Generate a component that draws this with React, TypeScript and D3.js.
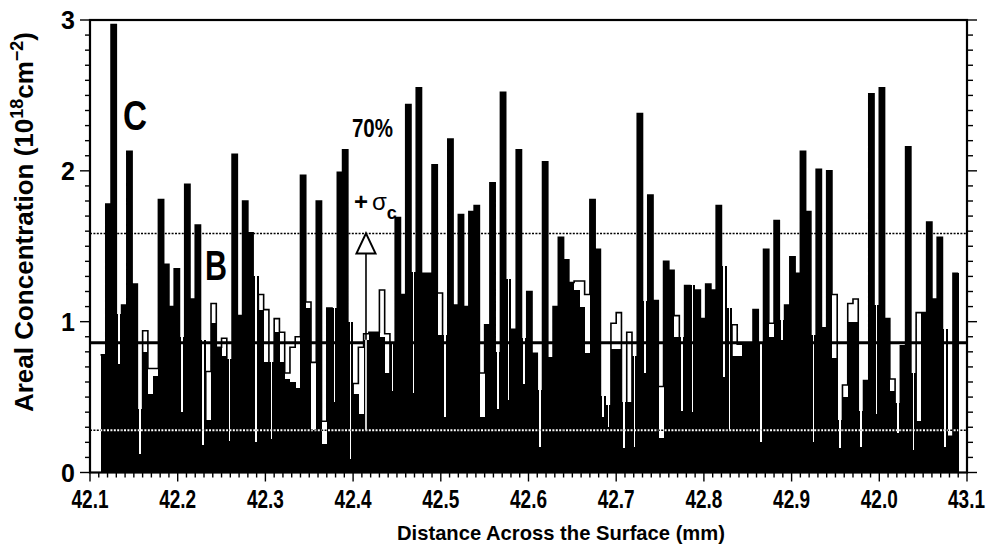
import React from "react";
import * as d3 from "d3";

// histogram bins: 0.006 mm wide, first bin starts at 42.112 mm
const binStart = 42.112;
const binWidth = 0.006;

// curve C (black bars), 10^18 cm^-2
const cVals = [
  0.78, 1.78, 2.97, 1.05, 1.11, 2.13, 1.25, 0.42, 0.80, 0.52,
  0.64, 1.81, 1.38, 1.10, 1.35, 0.90, 1.91, 1.15, 1.64, 0.88,
  0.35, 0.99, 0.83, 0.77, 0.75, 2.11, 1.04, 1.80, 1.59, 1.30,
  1.08, 0.73, 0.73, 0.93, 0.73, 0.62, 0.60, 0.56, 1.97, 1.09,
  0.28, 1.80, 0.19, 1.09, 1.09, 1.99, 2.14, 1.00, 0.52, 0.39,
  0.88, 0.93, 0.93, 0.90, 0.66, 0.85, 1.69, 1.18, 2.44, 1.33,
  2.55, 1.32, 1.32, 2.04, 0.91, 0.91, 2.21, 1.11, 1.71, 1.10,
  1.73, 1.77, 0.37, 0.98, 1.92, 0.80, 2.52, 1.28, 0.95, 2.14,
  0.89, 1.20, 0.79, 0.55, 2.06, 0.76, 1.10, 1.56, 1.41, 1.26,
  1.21, 1.10, 0.79, 1.81, 1.48, 0.51, 0.45, 0.82, 0.82, 0.47,
  0.47, 0.77, 2.38, 1.14, 1.84, 1.14, 0.23, 1.40, 1.34, 0.90,
  0.90, 1.24, 1.24, 1.21, 1.02, 1.25, 1.21, 1.77, 1.37, 1.09,
  0.77, 0.77, 0.85, 0.86, 1.08, 0.86, 1.48, 0.90, 1.67, 1.01,
  1.11, 1.43, 1.32, 2.13, 1.73, 0.91, 2.01, 0.96, 2.00, 0.76,
  0.35, 0.50, 1.00, 1.00, 0.41, 0.61, 2.51, 1.11, 2.55, 1.02,
  0.54, 0.46, 0.84, 2.16, 0.66, 0.34, 1.06, 1.66, 1.15, 1.56,
  0.95, 0.24, 1.32,
];

// curve B (step outline), same bins
const bVals = [
  0.78, 1.78, 2.97, 0.72, 1.11, 2.13, 1.25, 0.12, 0.94, 0.69,
  0.69, 1.81, 1.38, 1.10, 1.35, 0.40, 1.91, 1.15, 1.64, 0.18,
  0.67, 1.12, 0.83, 0.89, 0.21, 2.11, 1.04, 1.80, 1.59, 0.20,
  1.18, 1.08, 0.22, 1.02, 0.93, 0.66, 0.83, 0.90, 1.97, 1.13,
  0.73, 1.80, 0.34, 1.09, 0.47, 1.99, 2.14, 0.09, 0.59, 0.83,
  0.92, 0.93, 0.93, 1.21, 0.92, 0.54, 1.69, 1.18, 2.44, 0.53,
  2.55, 1.32, 1.32, 2.04, 1.19, 0.37, 2.21, 1.11, 1.71, 1.10,
  1.73, 1.77, 0.66, 0.98, 1.92, 0.42, 2.52, 0.48, 0.95, 2.14,
  0.59, 1.20, 0.79, 0.17, 2.06, 0.76, 1.10, 1.56, 1.41, 1.26,
  1.27, 1.27, 1.18, 1.81, 1.48, 0.37, 0.30, 0.99, 1.06, 0.16,
  0.93, 0.17, 2.38, 0.66, 1.84, 1.14, 0.57, 1.40, 1.34, 1.04,
  0.41, 1.24, 0.40, 1.21, 1.02, 1.25, 1.21, 1.77, 0.63, 0.28,
  0.98, 0.85, 0.85, 0.86, 1.08, 0.20, 1.48, 0.99, 1.67, 0.88,
  1.11, 1.43, 1.32, 2.13, 1.73, 0.20, 2.01, 0.96, 2.00, 1.18,
  0.16, 0.58, 1.12, 1.15, 0.17, 0.61, 2.51, 0.39, 2.55, 1.02,
  0.62, 0.26, 0.84, 2.16, 0.15, 1.06, 1.06, 1.66, 1.15, 1.56,
  0.17, 0.24, 1.32,
];

const xTicks = [42.1, 42.2, 42.3, 42.4, 42.5, 42.6, 42.7, 42.8, 42.9, 43.0, 43.1];
const xTickLabels = ["42.1", "42.2", "42.3", "42.4", "42.5", "42.6", "42.7", "42.8", "42.9", "42.0", "43.1"];
const yTicks = [0, 1, 2, 3];

const meanLevel = 0.86;
const sigmaLevels = [1.585, 0.28];

// labels written on the plot (data coords)
const labels = [
  { text: "C", x: 42.1376, y: 2.27, size: 42, len: 24 },
  { text: "B", x: 42.2311, y: 1.277, size: 42, len: 22 },
  { text: "70%", x: 42.3987, y: 2.225, size: 26, len: 41 },
];
const arrowX = 42.4147;

const W = 991;
const H = 546;
const FONT = "'Liberation Sans', Arial, Helvetica, sans-serif";

const x = d3.scaleLinear().domain([42.1, 43.1]).range([90, 967]);
const y = d3.scaleLinear().domain([0, 3]).range([472.5, 20]);

const App = () => {
  const bins = cVals.map((c, i) => {
    const x0 = x(binStart + i * binWidth);
    const x1 = x(binStart + (i + 1) * binWidth);
    return { i, c, b: bVals[i], x0, x1 };
  });

  const stepPts: [number, number][] = bVals.map((b, i) => [binStart + i * binWidth, b]);
  stepPts.push([binStart + bVals.length * binWidth, bVals[bVals.length - 1]]);
  const stepLine = d3
    .line<[number, number]>()
    .x((d) => x(d[0]))
    .y((d) => y(d[1]))
    .curve(d3.curveStepAfter);

  const xMinor = d3.range(0, 101).map((k) => 42.1 + k * 0.01);
  const yMinor = d3.range(0, 31).map((k) => k * 0.1);

  const ax = x(arrowX);
  const arrowTop = y(sigmaLevels[0]);
  const arrowBase = arrowTop + 20;

  return (
    <svg
      width={W}
      height={H}
      style={{ position: "absolute", left: 0, top: 0, background: "#fff" }}
      fontFamily={FONT}
      fontWeight="bold"
    >
      <defs>
        <clipPath id="cbars">
          {bins.map((d) => (
            <rect key={d.i} x={d.x0} width={d.x1 - d.x0} y={y(d.c)} height={y(0) - y(d.c)} />
          ))}
        </clipPath>
      </defs>
      <rect width={W} height={H} fill="#fff" />

      {/* curve B outline */}
      <path d={stepLine(stepPts) || ""} fill="none" stroke="#000" strokeWidth={1.6} />

      {/* curve C bars */}
      <g shapeRendering="crispEdges">
        {bins.map((d) => (
          <rect key={d.i} x={d.x0} width={d.x1 - d.x0 + 0.3} y={y(d.c)} height={y(0) - y(d.c)} fill="#000" />
        ))}
        {bins
          .filter((d) => d.b < d.c - 0.03)
          .map((d) => (
            <rect
              key={"n" + d.i}
              x={(d.x0 + d.x1) / 2 - 0.8}
              width={1.6}
              y={y(d.c)}
              height={y(d.b) - y(d.c)}
              fill="#fff"
            />
          ))}
      </g>

      {/* mean and sigma levels */}
      <line x1={x(42.1)} x2={x(43.1)} y1={y(meanLevel)} y2={y(meanLevel)} stroke="#000" strokeWidth={3} />
      <line
        x1={x(42.1)}
        x2={x(43.1)}
        y1={y(sigmaLevels[0])}
        y2={y(sigmaLevels[0])}
        stroke="#000"
        strokeWidth={1.6}
        strokeDasharray="2 1.4"
      />
      <line
        x1={x(42.1)}
        x2={x(43.1)}
        y1={y(sigmaLevels[1])}
        y2={y(sigmaLevels[1])}
        stroke="#000"
        strokeWidth={1.6}
        strokeDasharray="2 1.4"
      />
      <g clipPath="url(#cbars)">
        <line
          x1={x(42.1)}
          x2={x(43.1)}
          y1={y(sigmaLevels[1])}
          y2={y(sigmaLevels[1])}
          stroke="#fff"
          strokeWidth={1.8}
          strokeDasharray="2 1.4"
        />
      </g>

      {/* sigma arrow */}
      <line x1={ax} x2={ax} y1={arrowBase} y2={y(sigmaLevels[1])} stroke="#000" strokeWidth={1.6} />
      <g clipPath="url(#cbars)">
        <line x1={ax} x2={ax} y1={arrowBase} y2={y(sigmaLevels[1])} stroke="#fff" strokeWidth={1.6} />
      </g>
      <path
        d={`M${ax},${arrowTop} L${ax + 9.5},${arrowBase} L${ax - 9.5},${arrowBase} Z`}
        fill="#fff"
        stroke="#000"
        strokeWidth={2}
        strokeLinejoin="miter"
      />

      {/* frame */}
      <rect
        x={x(42.1)}
        y={y(3)}
        width={x(43.1) - x(42.1)}
        height={y(0) - y(3)}
        fill="none"
        stroke="#000"
        strokeWidth={2.2}
      />

      {/* x ticks */}
      {xMinor.map((v, k) => (
        <line
          key={"xm" + k}
          x1={x(v)}
          x2={x(v)}
          y1={y(0)}
          y2={y(0) + (k % 10 === 0 ? 9 : 5)}
          stroke="#000"
          strokeWidth={1.4}
        />
      ))}
      {xTicks.map((v, k) => {
        const last = k === xTicks.length - 1;
        return (
          <text
            key={"xl" + k}
            x={last ? x(v) + 18 : x(v)}
            y={508}
            textAnchor={last ? "end" : "middle"}
            fontSize={25}
            textLength={37}
            lengthAdjust="spacingAndGlyphs"
          >
            {xTickLabels[k]}
          </text>
        );
      })}

      {/* y ticks, left and right */}
      {yMinor.map((v, k) => (
        <g key={"ym" + k}>
          <line x1={x(42.1)} x2={x(42.1) - (k % 10 === 0 ? 10 : 5)} y1={y(v)} y2={y(v)} stroke="#000" strokeWidth={1.4} />
          <line x1={x(43.1)} x2={x(43.1) + (k % 10 === 0 ? 10 : 6)} y1={y(v)} y2={y(v)} stroke="#000" strokeWidth={1.4} />
        </g>
      ))}
      {yTicks.map((v) => (
        <text key={"yl" + v} x={75} y={y(v) + 9} textAnchor="end" fontSize={25}>
          {v}
        </text>
      ))}

      {/* axis titles */}
      <text x={561} y={540} textAnchor="middle" fontSize={21} textLength={328} lengthAdjust="spacingAndGlyphs">
        Distance Across the Surface (mm)
      </text>
      <text transform="translate(33,222) rotate(-90)" textAnchor="middle" fontSize={26}>
        Areal Concentration (10
        <tspan dy={-10} fontSize={18}>
          18
        </tspan>
        <tspan dy={10}>cm</tspan>
        <tspan dy={-10} fontSize={18}>
          −2
        </tspan>
        <tspan dy={10}>)</tspan>
      </text>

      {/* annotations */}
      {labels.map((l) => (
        <text key={l.text} x={x(l.x)} y={y(l.y)} fontSize={l.size} textLength={l.len} lengthAdjust="spacingAndGlyphs">
          {l.text}
        </text>
      ))}
      <text x={x(42.3987) + 2} y={210} fontSize={24}>
        +
        <tspan dx={4} fontWeight="normal">σ</tspan>
        <tspan dy={9} fontSize={18}>
          c
        </tspan>
      </text>
    </svg>
  );
};

export default App;
